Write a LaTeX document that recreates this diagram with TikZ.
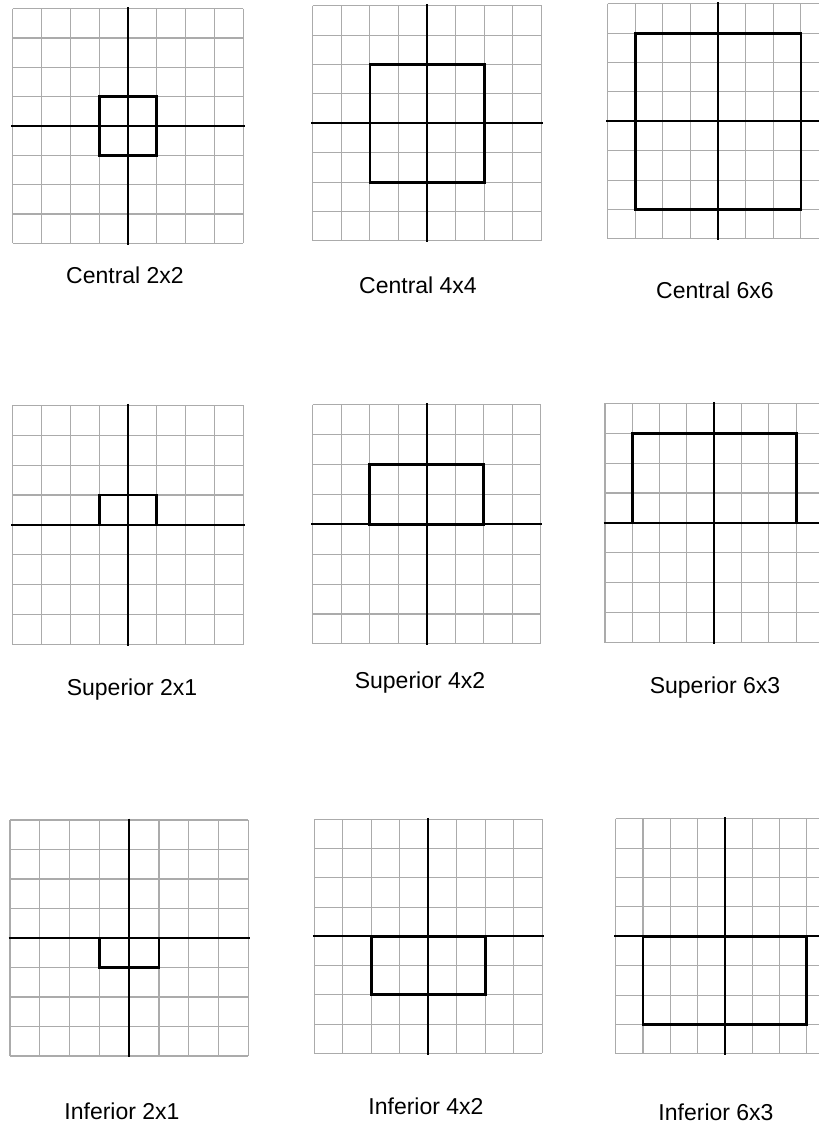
\documentclass[tikz,border=0pt]{standalone}
\usepackage{fontspec}
\setmainfont{Liberation Sans}
\tikzset{
  gridline/.style={draw=black!33, line width=1.1pt},
  axisline/.style={draw=black, line width=2pt},
  boxline/.style={draw=black, line width=2.8pt},
  caption/.style={font=\fontsize{23}{25}\selectfont, inner sep=0pt, anchor=center}
}
% #1 left, #2 top, #3 cell width, #4 cell height, #5 box x0, #6 box y0, #7 box x1, #8 box y1
\newcommand\gridpanel[8]{%
  \begin{scope}[shift={(#1pt,-#2pt)}, x=#3pt, y=-#4pt]
    \foreach \k in {0,...,8} {
      \draw[gridline] (\k,0) -- (\k,8);
      \draw[gridline] (0,\k) -- (8,\k);
    }
    \draw[axisline] (-0.05,4) -- (8.05,4);
    \draw[axisline] (4,-0.05) -- (4,8.05);
    \draw[boxline] (#5,#6) rectangle (#7,#8);
  \end{scope}%
}
\begin{document}
\begin{tikzpicture}[x=1pt,y=-1pt]
  \useasboundingbox (0,0) rectangle (819,1125);
  \clip (0,0) rectangle (819,1125);
  \fill[white] (0,0) rectangle (819,1125);
  % row 1: central
  \gridpanel{12.7}{8.7}{28.8}{29.33}{3}{3}{5}{5}
  \gridpanel{312.7}{5.7}{28.6}{29.4}{2}{2}{6}{6}
  \gridpanel{607.7}{3.7}{27.6}{29.4}{1}{1}{7}{7}
  % row 2: superior
  \gridpanel{12.7}{405.3}{28.8}{29.9}{3}{3}{5}{4}
  \gridpanel{312.7}{404.7}{28.5}{29.9}{2}{2}{6}{4}
  \gridpanel{605}{403.3}{27.3}{29.9}{1}{1}{7}{4}
  % row 3: inferior
  \gridpanel{10}{820}{29.8}{29.5}{3}{4}{5}{5}
  \gridpanel{314.3}{819.3}{28.5}{29.25}{2}{4}{6}{6}
  \gridpanel{615.7}{818.7}{27.3}{29.4}{1}{4}{7}{7}
  % captions
  \node[caption] (c1) at (125,275) {Central 2x2};
  \node[caption] (c2) at (418,285) {Central 4x4};
  \node[caption] (c3) at (715,290) {Central 6x6};
  \node[caption] (s1) at (132,690) {Superior 2x1};
  \node[caption] (s2) at (420,683) {Superior 4x2};
  \node[caption] (s3) at (715,688) {Superior 6x3};
  \node[caption] (i1) at (122,1111) {Inferior 2x1};
  \node[caption] (i2) at (426,1106) {Inferior 4x2};
  \node[caption] (i3) at (716,1112) {Inferior 6x3};
\end{tikzpicture}
\end{document}
